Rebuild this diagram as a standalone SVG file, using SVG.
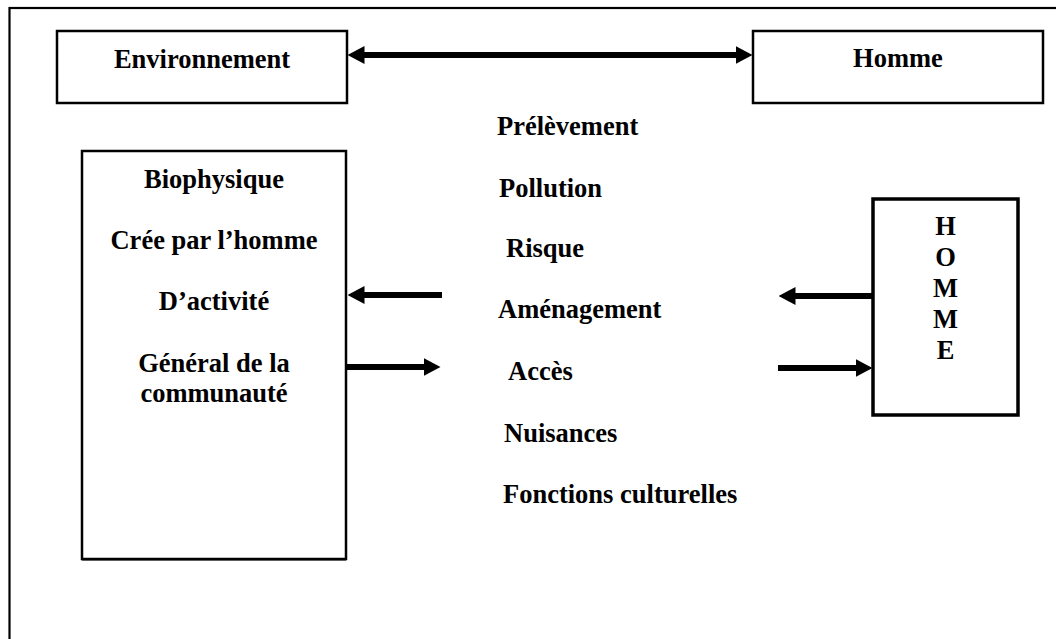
<svg xmlns="http://www.w3.org/2000/svg" width="1056" height="639" viewBox="0 0 1056 639">
  <style>
    .box { fill: #fff; stroke: #000; stroke-width: 2.5; }
    .thick { stroke-width: 3.5; }
    .lbl { font-family: 'Liberation Serif', serif; font-weight: bold; font-size: 26.5px; fill: #000; }
    .mid { text-anchor: middle; }
    .wire { stroke: #000; stroke-width: 6; fill: none; }
  </style>
  <defs>
    <marker id="head" viewBox="0 0 17 18" markerUnits="userSpaceOnUse" markerWidth="17" markerHeight="18" refX="0.5" refY="9" orient="auto-start-reverse">
      <path d="M0,0 L17,9 L0,18 Z" fill="#000"/>
    </marker>
  </defs>

  <rect width="1056" height="639" fill="#fff"/>

  <!-- outer frame, open at right and bottom -->
  <rect x="9.5" y="8" width="1100" height="700" fill="none" stroke="#000" stroke-width="2.2"/>

  <g id="environnement">
    <rect class="box" x="57" y="31" width="290" height="72"/>
    <text class="lbl mid" x="202" y="68">Environnement</text>
  </g>

  <g id="homme">
    <rect class="box" x="753" y="31" width="290" height="72"/>
    <text class="lbl mid" x="898" y="67">Homme</text>
  </g>

  <g id="categories">
    <rect class="box" x="82" y="151" width="264" height="408"/>
    <line x1="82" y1="559.5" x2="346" y2="559.5" stroke="#000" stroke-width="2"/>
    <text class="lbl mid" x="214" y="188">Biophysique</text>
    <text class="lbl mid" x="214" y="249">Crée par l’homme</text>
    <text class="lbl mid" x="214" y="310">D’activité</text>
    <text class="lbl mid" x="214" y="372">Général de la</text>
    <text class="lbl mid" x="214" y="402">communauté</text>
  </g>

  <g id="homme-vertical">
    <rect class="box thick" x="873" y="199" width="145" height="216"/>
    <text class="lbl mid" x="945.5" y="235">H</text>
    <text class="lbl mid" x="945.5" y="266">O</text>
    <text class="lbl mid" x="945.5" y="297">M</text>
    <text class="lbl mid" x="945.5" y="328">M</text>
    <text class="lbl mid" x="945.5" y="359">E</text>
  </g>

  <g id="interactions">
    <text class="lbl" x="497" y="135">Prélèvement</text>
    <text class="lbl" x="499" y="197">Pollution</text>
    <text class="lbl" x="506" y="257">Risque</text>
    <text class="lbl" x="498" y="318">Aménagement</text>
    <text class="lbl" x="508" y="380">Accès</text>
    <text class="lbl" x="504" y="442">Nuisances</text>
    <text class="lbl" x="503" y="503">Fonctions culturelles</text>
  </g>

  <g id="connectors">
    <line class="wire" x1="364" y1="55" x2="736" y2="55" marker-start="url(#head)" marker-end="url(#head)"/>
    <line class="wire" x1="442" y1="295" x2="364" y2="295" marker-end="url(#head)"/>
    <line class="wire" x1="347" y1="367" x2="424" y2="367" marker-end="url(#head)"/>
    <line class="wire" x1="873" y1="296" x2="795" y2="296" marker-end="url(#head)"/>
    <line class="wire" x1="778" y1="368" x2="856" y2="368" marker-end="url(#head)"/>
  </g>
</svg>
